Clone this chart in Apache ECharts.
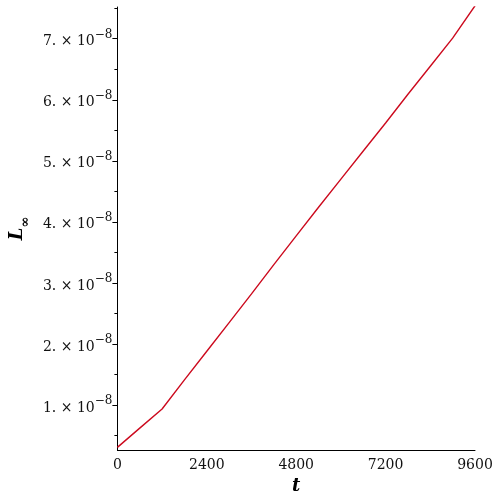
<!DOCTYPE html>
<html>
<head>
<meta charset="utf-8">
<script src="https://cdn.jsdelivr.net/npm/echarts@6/dist/echarts.min.js"></script>
<style>
  html, body { margin: 0; padding: 0; background: #fff; }
  #chart { width: 500px; height: 500px; }
</style>
</head>
<body>
<div id="chart"></div>
<script>
// t values and L-infinity error (in units of 1e-8)
const tValues = [0, 600, 1200, 1800, 2400, 3000, 3600, 4200, 4800, 5400, 6000, 6600, 7200, 7800, 8400, 9000, 9600]
const linfE8  = [0.305, 0.62, 0.934, 1.41, 1.88, 2.35, 2.82, 3.30, 3.77, 4.24, 4.70, 5.16, 5.62, 6.09, 6.55, 7.01, 7.54]
const xTicks  = [0, 2400, 4800, 7200, 9600]
const yMajor  = [1, 2, 3, 4, 5, 6, 7]
const yMinor  = [0.5, 1.5, 2.5, 3.5, 4.5, 5.5, 6.5, 7.5]

const serif = 'DejaVu Serif'
const chart = echarts.init(document.getElementById('chart'))

const yRange = { min: 0.262, max: 7.52 }

chart.setOption({
  animation: false,
  grid: { left: 113, right: 25, top: 7, bottom: 50 },
  xAxis: {
    type: 'value', min: xTicks[0], max: xTicks[xTicks.length - 1], interval: 2400,
    name: 't', nameLocation: 'middle', nameGap: 27,
    nameTextStyle: { fontFamily: serif, fontStyle: 'italic', fontWeight: 'bold', fontSize: 18, color: '#000' },
    axisLine: { lineStyle: { color: '#000', width: 1 } },
    axisTick: { show: false },
    axisLabel: { fontFamily: serif, fontSize: 14, color: '#111', margin: 8, formatter: v => String(v) },
    splitLine: { show: false }
  },
  yAxis: [
    {
      type: 'value', ...yRange,
      name: '{l|L}{s|∞}', nameLocation: 'middle', nameRotate: 90, nameGap: 84,
      nameTextStyle: {
        rich: {
          l: { fontFamily: serif, fontStyle: 'italic', fontWeight: 'bold', fontSize: 18, color: '#000', lineHeight: 24, verticalAlign: 'top' },
          s: { fontFamily: serif, fontWeight: 'bold', fontSize: 13, color: '#000', lineHeight: 24, verticalAlign: 'bottom' }
        }
      },
      axisLine: { show: true, lineStyle: { color: '#000', width: 1 } },
      axisTick: { show: true, length: 5, customValues: yMajor, lineStyle: { color: '#000' } },
      axisLabel: {
        customValues: yMajor, margin: 5,
        formatter: v => '{a|' + v + '. × 10}{b|−8}',
        rich: {
          a: { fontFamily: serif, fontSize: 14, color: '#111', lineHeight: 20, verticalAlign: 'bottom' },
          b: { fontFamily: serif, fontSize: 12, color: '#111', lineHeight: 20, verticalAlign: 'top' }
        }
      },
      splitLine: { show: false }
    },
    {
      type: 'value', ...yRange, position: 'left',
      axisLine: { show: false },
      axisTick: { show: true, length: 3, customValues: yMinor, lineStyle: { color: '#000' } },
      axisLabel: { show: false },
      splitLine: { show: false }
    }
  ],
  series: [{
    type: 'line',
    data: tValues.map((t, i) => [t, linfE8[i]]),
    showSymbol: false,
    lineStyle: { color: '#cc0a1e', width: 1.4 }
  }]
})
</script>
</body>
</html>
